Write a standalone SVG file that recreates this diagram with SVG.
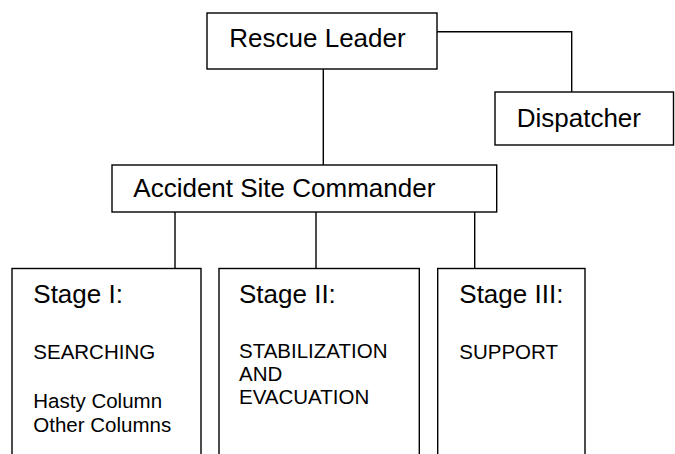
<svg xmlns="http://www.w3.org/2000/svg" width="675" height="454" viewBox="0 0 675 454">
<style>
.box{fill:#fff;stroke:#000;stroke-width:1.4}
.ln{fill:none;stroke:#000;stroke-width:1.4}
.big{font-family:"Liberation Sans",Arial,sans-serif;font-size:26px;fill:#000}
.sm{font-family:"Liberation Sans",Arial,sans-serif;font-size:20.5px;fill:#000}
</style>
<rect width="675" height="454" fill="#fff"/>
<g id="connectors">
<polyline class="ln" points="437,31.7 571.7,31.7 571.7,92"/>
<line class="ln" x1="323.3" y1="69" x2="323.3" y2="165"/>
<line class="ln" x1="175" y1="212" x2="175" y2="268.5"/>
<line class="ln" x1="316" y1="212" x2="316" y2="268.5"/>
<line class="ln" x1="474.7" y1="212" x2="474.7" y2="268.5"/>
</g>
<g id="rescue-leader">
<rect class="box" x="207" y="13" width="230" height="56"/>
<text class="big" x="229.3" y="46.7">Rescue Leader</text>
</g>
<g id="dispatcher">
<rect class="box" x="495" y="92" width="178.5" height="53"/>
<text class="big" x="516.7" y="126.7">Dispatcher</text>
</g>
<g id="accident-site-commander">
<rect class="box" x="112" y="165" width="384.7" height="47"/>
<text class="big" x="133.3" y="197.3">Accident Site Commander</text>
</g>
<g id="stage1">
<rect class="box" x="12" y="268.5" width="189" height="200"/>
<text class="big" x="33.3" y="302.7">Stage I:</text>
<text class="sm" x="33.3" y="359.3">SEARCHING</text>
<text class="sm" x="33.3" y="408.3">Hasty Column</text>
<text class="sm" x="33.3" y="432.3">Other Columns</text>
</g>
<g id="stage2">
<rect class="box" x="219" y="268.5" width="200.3" height="200"/>
<text class="big" x="239" y="302.7">Stage II:</text>
<text class="sm" x="239" y="358.3">STABILIZATION</text>
<text class="sm" x="239" y="381">AND</text>
<text class="sm" x="239" y="404">EVACUATION</text>
</g>
<g id="stage3">
<rect class="box" x="437.7" y="268.5" width="147.3" height="200"/>
<text class="big" x="459.3" y="302.7">Stage III:</text>
<text class="sm" x="459.3" y="359">SUPPORT</text>
</g>
</svg>
